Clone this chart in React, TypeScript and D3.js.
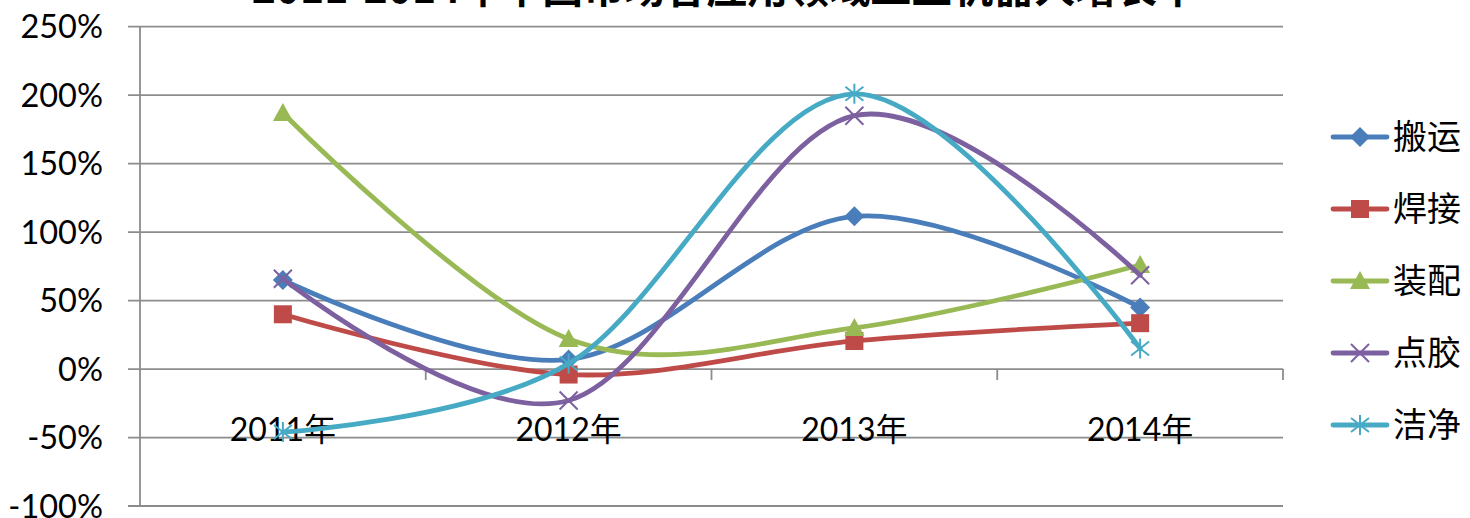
import React from "react";
import * as d3 from "d3";

const title = "2011-2014年中国市场各应用领域工业机器人增长率";
const categories = ["2011年", "2012年", "2013年", "2014年"];
const seriesNames = ["搬运", "焊接", "装配", "点胶", "洁净"];
const banyun = [0.65, 0.07, 1.115, 0.45];
const hanjie = [0.4, -0.04, 0.205, 0.335];
const zhuangpei = [1.87, 0.22, 0.3, 0.76];
const dianjiao = [0.66, -0.23, 1.85, 0.685];
const jiejing = [-0.46, 0.04, 2.01, 0.15];
const yTicks = [-1, -0.5, 0, 0.5, 1, 1.5, 2, 2.5];

const seriesValues = [banyun, hanjie, zhuangpei, dianjiao, jiejing];
const colors = ["#4A7EBB", "#BE4B48", "#98B954", "#7D60A0", "#46AAC5"];
const markerTypes = ["diamond", "square", "triangle", "x", "star"];

const W = 1470;
const H = 518;
const plotLeft = 140;
const plotRight = 1283;
const plotTop = 26.7;
const plotBottom = 506;

const x = d3.scaleBand<string>().domain(categories).range([plotLeft, plotRight]);
const y = d3.scaleLinear().domain([-1, 2.5]).range([plotBottom, plotTop]);
const cx = (c: string) => (x(c) as number) + x.bandwidth() / 2;
const locale = d3.formatLocale({
  decimal: ".",
  thousands: ",",
  grouping: [3],
  currency: ["", ""],
  minus: "-",
});
const fmt = locale.format(".0%");

const line = d3
  .line<number>()
  .x((_, i) => cx(categories[i]))
  .y((v) => y(v))
  .curve(d3.curveCardinal.tension(0));

function Marker({ type, color, px, py }: { type: string; color: string; px: number; py: number }) {
  const t = `translate(${px},${py})`;
  if (type === "diamond") {
    return <path transform={t} d="M0,-10L10,0L0,10L-10,0Z" fill={color} />;
  }
  if (type === "square") {
    return <rect transform={t} x={-9} y={-9} width={18} height={18} fill={color} />;
  }
  if (type === "triangle") {
    return <path transform={t} d="M0,-10L10,8L-10,8Z" fill={color} />;
  }
  if (type === "x") {
    return <path transform={t} d="M-9,-9L9,9M-9,9L9,-9" stroke={color} strokeWidth={2} fill="none" />;
  }
  return (
    <path
      transform={t}
      d="M0,-10L0,10M-9,-7L9,7M-9,7L9,-7"
      stroke={color}
      strokeWidth={2}
      fill="none"
    />
  );
}

export default function App() {
  const xAxisY = y(0);
  const gridColor = "#8C8C8C";
  const latin = "Lato, 'Noto Sans CJK SC', sans-serif";
  return (
    <div style={{ position: "fixed", left: 0, top: 0, width: W, height: H, background: "#fff" }}>
      <svg width={W} height={H} style={{ display: "block" }}>
        <rect width={W} height={H} fill="#fff" />
        <text
          x={725}
          y={3}
          textAnchor="middle"
          fontSize={41}
          fontWeight="bold"
          fontFamily="'Noto Sans CJK SC', sans-serif"
          fill="#000"
        >
          {title}
        </text>
        {yTicks.map((t) => (
          <line
            key={t}
            x1={plotLeft - 12}
            x2={plotRight}
            y1={y(t)}
            y2={y(t)}
            stroke={gridColor}
            strokeWidth={1.8}
          />
        ))}
        <line x1={plotLeft} x2={plotLeft} y1={plotTop} y2={plotBottom} stroke={gridColor} strokeWidth={1.8} />
        {categories.map((c) => (
          <line
            key={c}
            x1={(x(c) as number) + x.bandwidth()}
            x2={(x(c) as number) + x.bandwidth()}
            y1={xAxisY}
            y2={xAxisY + 11}
            stroke={gridColor}
            strokeWidth={1.8}
          />
        ))}
        {yTicks.map((t) => (
          <text
            key={t}
            x={103}
            y={y(t) + 11.5}
            textAnchor="end"
            fontSize={32.5}
            fontFamily={latin}
            fill="#000"
          >
            {fmt(t)}
          </text>
        ))}
        {categories.map((c) => (
          <text
            key={c}
            x={cx(c)}
            y={441}
            textAnchor="middle"
            fontSize={32}
            fontFamily={latin}
            fill="#000"
          >
            {c}
          </text>
        ))}
        {seriesValues.map((vals, si) => (
          <g key={seriesNames[si]}>
            <path
              d={line(vals) as string}
              fill="none"
              stroke={colors[si]}
              strokeWidth={4.8}
              strokeLinecap="round"
              strokeLinejoin="round"
            />
            {vals.map((v, i) => (
              <Marker key={i} type={markerTypes[si]} color={colors[si]} px={cx(categories[i])} py={y(v)} />
            ))}
          </g>
        ))}
        {seriesNames.map((n, si) => {
          const ly = 137 + si * 72;
          return (
            <g key={n}>
              <line x1={1333} x2={1387} y1={ly} y2={ly} stroke={colors[si]} strokeWidth={4.8} strokeLinecap="round" />
              <Marker type={markerTypes[si]} color={colors[si]} px={1360} py={ly} />
              <text
                x={1393}
                y={ly + 12}
                fontSize={34}
                fontFamily="'Noto Sans CJK SC', sans-serif"
                fill="#000"
              >
                {n}
              </text>
            </g>
          );
        })}
      </svg>
    </div>
  );
}
